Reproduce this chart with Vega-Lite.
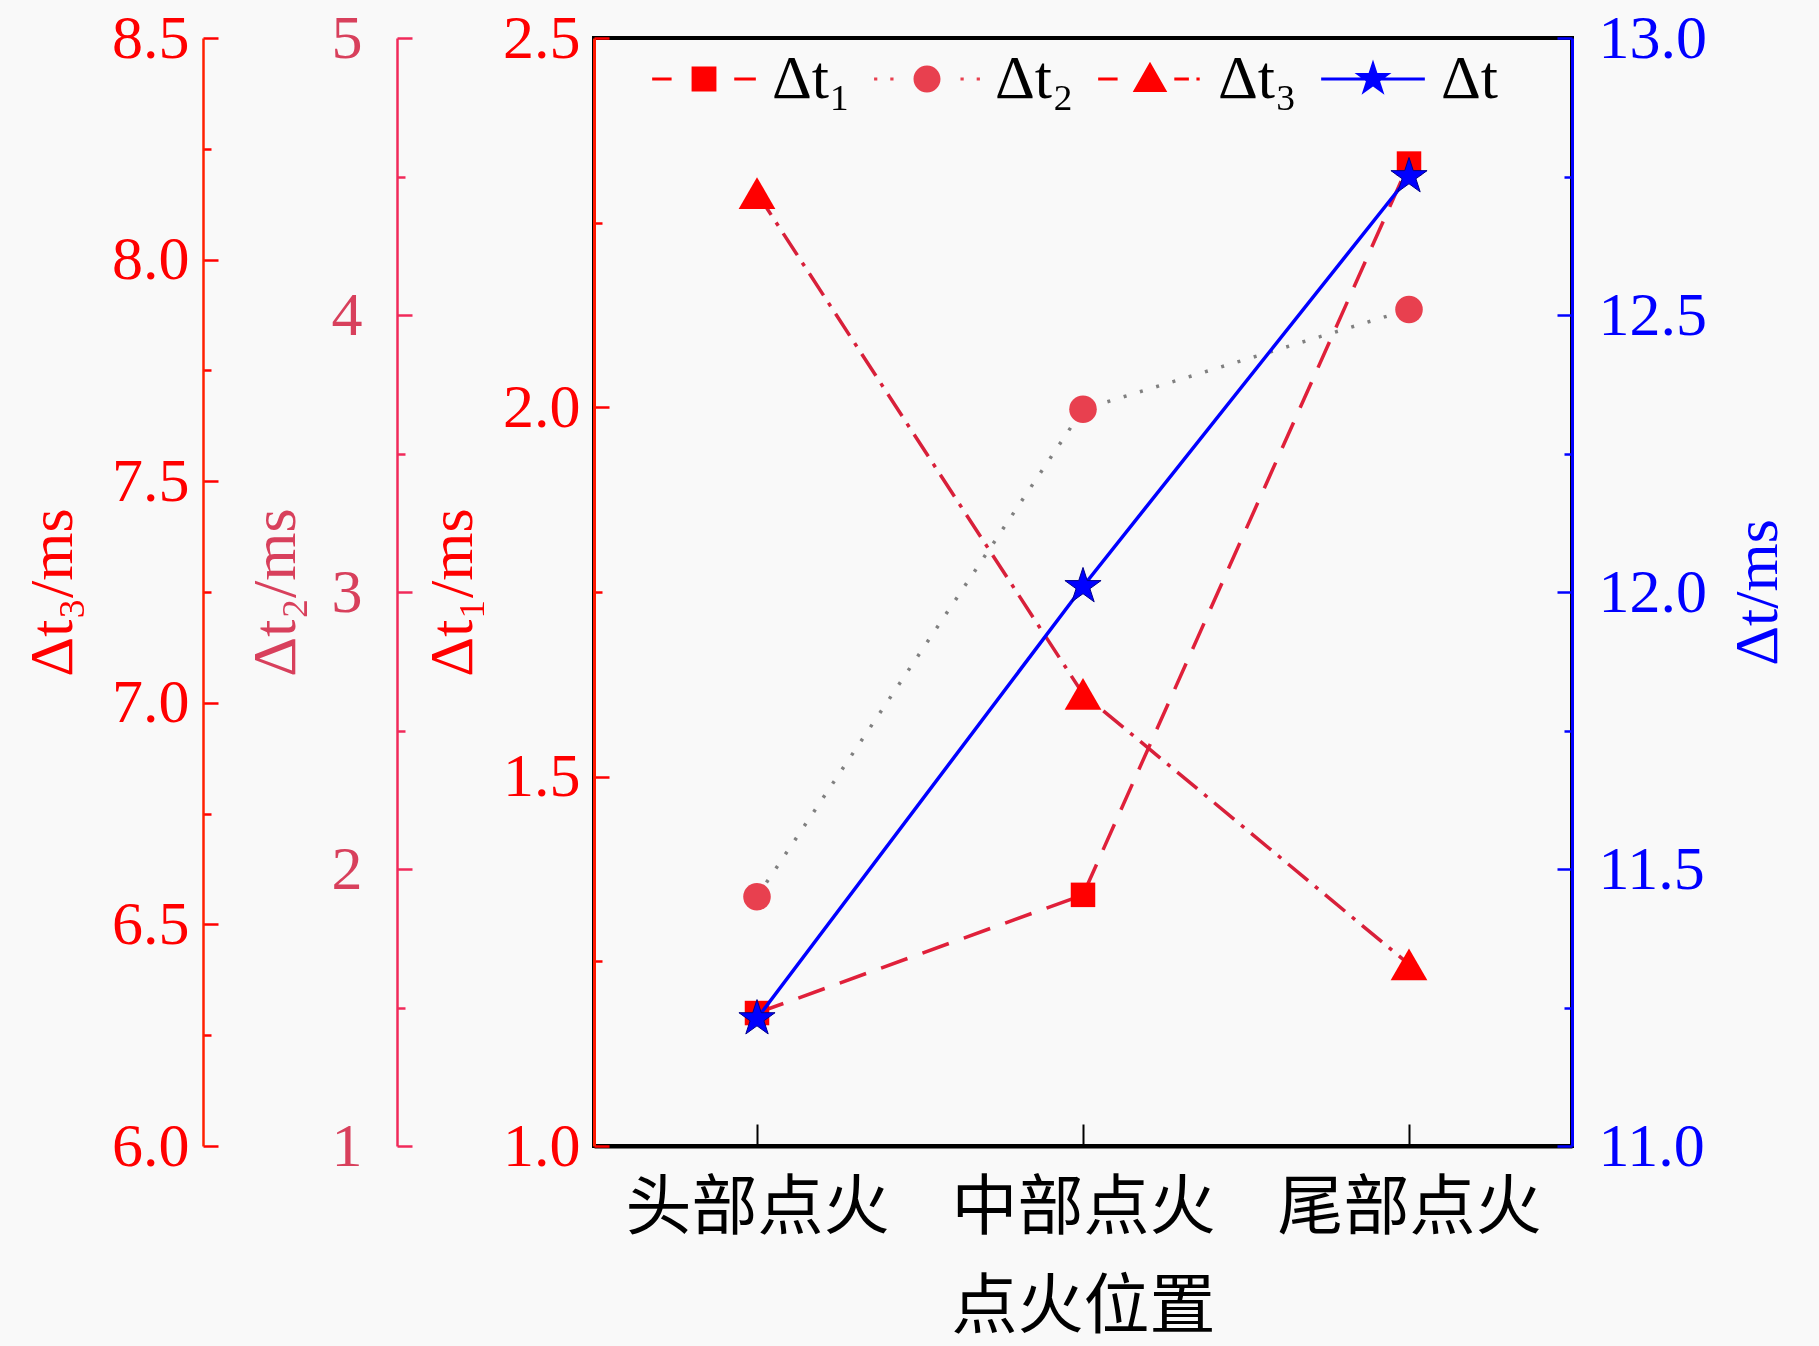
{
  "$schema": "https://vega.github.io/schema/vega-lite/v6.json",
  "width": 978,
  "height": 1108,
  "autosize": {"type": "none"},
  "padding": {"left": 594, "top": 38, "right": 247, "bottom": 200},
  "background": "#f9f9f9",
  "config": {
    "font": "Liberation Serif",
    "view": {"stroke": "#000000", "strokeWidth": 4},
    "axis": {"grid": false, "labelFontSize": 62, "titleFontSize": 62, "titleFontWeight": "normal", "labelFont": "Liberation Serif", "titleFont": "Liberation Serif"}
  },
  "datasets": {
    "main": [
      {"pos": "头部点火", "t1": 1.18, "t2": 1.9, "t3": 8.15, "t": 11.23},
      {"pos": "中部点火", "t1": 1.34, "t2": 3.66, "t3": 7.02, "t": 12.01},
      {"pos": "尾部点火", "t1": 2.33, "t2": 4.02, "t3": 6.41, "t": 12.75}
    ],
    "legend": [
      {"s": "Δt₁"},
      {"s": "Δt₂"},
      {"s": "Δt₃"},
      {"s": "Δt"}
    ]
  },
  "data": {"name": "main"},
  "encoding": {
    "x": {
      "field": "pos",
      "type": "nominal",
      "sort": null,
      "scale": {"type": "point", "padding": 0.5},
      "title": "点火位置",
      "axis": {
        "labelAngle": 0,
        "labelLimit": 0,
        "labelFont": "Noto Sans CJK SC",
        "titleFont": "Noto Sans CJK SC",
        "labelFontSize": 66,
        "titleFontSize": 66,
        "labelColor": "#000000",
        "titleColor": "#000000",
        "domainColor": "#000000",
        "domainWidth": 4,
        "tickColor": "#000000",
        "tickWidth": 2,
        "tickSize": -22,
        "labelPadding": 52,
        "titlePadding": 34
      }
    }
  },
  "layer": [
    {
      "mark": {
        "type": "line",
        "color": "#e0203a",
        "strokeWidth": 3.5,
        "strokeDash": [28, 16],
        "point": {"shape": "square", "filled": true, "color": "#ff0000", "size": 600, "opacity": 1}
      },
      "encoding": {
        "y": {
          "field": "t1",
          "type": "quantitative",
          "scale": {"domain": [1, 2.5], "nice": false, "zero": false},
          "title": "Δt₁/ms",
          "axis": {
            "orient": "left",
            "offset": 0,
            "values": [1, 1.25, 1.5, 1.75, 2, 2.25, 2.5],
            "labelExpr": "round(datum.value*4)%2==0 ? format(datum.value,'.1f') : ''",
            "domainColor": "#ff1a00",
            "domainWidth": 3,
            "tickColor": "#ff0000",
            "tickWidth": 2.5,
            "tickSize": {"condition": {"test": "round(datum.value*4)%2==0", "value": -15}, "value": -8},
            "labelColor": "#ff0000",
            "titleColor": "#ff0000",
            "labelPadding": 29,
            "titleX": -142,
            "titleY": 554,
            "titleBaseline": "middle",
            "titleAlign": "center"
          }
        }
      }
    },
    {
      "mark": {
        "type": "line",
        "color": "#808080",
        "strokeWidth": 3.5,
        "strokeDash": [3, 14],
        "point": {"shape": "circle", "filled": true, "color": "#e8404f", "size": 760, "opacity": 1}
      },
      "encoding": {
        "y": {
          "field": "t2",
          "type": "quantitative",
          "scale": {"domain": [1, 5], "nice": false, "zero": false},
          "title": "Δt₂/ms",
          "axis": {
            "orient": "left",
            "offset": 197,
            "values": [1, 1.5, 2, 2.5, 3, 3.5, 4, 4.5, 5],
            "labelExpr": "round(datum.value*2)%2==0 ? format(datum.value,'d') : ''",
            "domainColor": "#f02a5a",
            "domainWidth": 2.5,
            "tickColor": "#f02a5a",
            "tickWidth": 2.5,
            "tickSize": {"condition": {"test": "round(datum.value*2)%2==0", "value": -15}, "value": -8},
            "labelColor": "#d8405c",
            "titleColor": "#d8405c",
            "labelPadding": 50,
            "titleX": -122,
            "titleY": 554,
            "titleBaseline": "middle",
            "titleAlign": "center"
          }
        }
      }
    },
    {
      "mark": {
        "type": "line",
        "color": "#d8203a",
        "strokeWidth": 3.5,
        "strokeDash": [26, 9, 4, 9],
        "point": {"shape": "triangle-up", "filled": true, "color": "#ff0000", "size": 1350, "opacity": 1}
      },
      "encoding": {
        "y": {
          "field": "t3",
          "type": "quantitative",
          "scale": {"domain": [6, 8.5], "nice": false, "zero": false},
          "title": "Δt₃/ms",
          "axis": {
            "orient": "left",
            "offset": 391,
            "values": [6, 6.25, 6.5, 6.75, 7, 7.25, 7.5, 7.75, 8, 8.25, 8.5],
            "labelExpr": "round(datum.value*4)%2==0 ? format(datum.value,'.1f') : ''",
            "domainColor": "#ff2000",
            "domainWidth": 2.5,
            "tickColor": "#ff0000",
            "tickWidth": 2.5,
            "tickSize": {"condition": {"test": "round(datum.value*4)%2==0", "value": -15}, "value": -8},
            "labelColor": "#ff0000",
            "titleColor": "#ff0000",
            "labelPadding": 29,
            "titleX": -151,
            "titleY": 554,
            "titleBaseline": "middle",
            "titleAlign": "center"
          }
        }
      }
    },
    {
      "mark": {
        "type": "line",
        "color": "#0000ff",
        "strokeWidth": 3.5,
        "point": {
          "shape": "M0,-1 L0.225,-0.309 L0.951,-0.309 L0.363,0.118 L0.588,0.809 L0,0.382 L-0.588,0.809 L-0.363,0.118 L-0.951,-0.309 L-0.225,-0.309 Z",
          "filled": true,
          "color": "#0000ff",
          "stroke": "#00008b",
          "strokeWidth": 1,
          "size": 1444,
          "opacity": 1
        }
      },
      "encoding": {
        "y": {
          "field": "t",
          "type": "quantitative",
          "scale": {"domain": [11, 13], "nice": false, "zero": false},
          "title": "Δt/ms",
          "axis": {
            "orient": "right",
            "values": [11, 11.25, 11.5, 11.75, 12, 12.25, 12.5, 12.75, 13],
            "labelExpr": "round(datum.value*4)%2==0 ? format(datum.value,'.1f') : ''",
            "domainColor": "#0000ff",
            "domainWidth": 3,
            "tickColor": "#0000ff",
            "tickWidth": 2.5,
            "tickSize": {"condition": {"test": "round(datum.value*4)%2==0", "value": -15}, "value": -8},
            "labelColor": "#0000ff",
            "titleColor": "#0000ff",
            "labelPadding": 41,
            "titleAngle": 270,
            "titleX": 185,
            "titleY": 554,
            "titleBaseline": "middle",
            "titleAlign": "center"
          }
        }
      }
    },
    {
      "data": {"name": "legend"},
      "transform": [{"filter": "datum.s == null"}],
      "mark": {"type": "point", "filled": true, "opacity": 1, "fillOpacity": 1},
      "encoding": {
        "x": {"value": 0},
        "y": {"value": 0},
        "fill": {
          "field": "s",
          "type": "nominal",
          "sort": null,
          "scale": {"domain": ["Δt₁", "Δt₂", "Δt₃", "Δt"], "range": ["#ff0000", "#e8404f", "#ff0000", "#0000ff"]},
          "legend": {
            "orient": "none",
            "legendX": 56,
            "legendY": -13,
            "direction": "horizontal",
            "title": null,
            "padding": 0,
            "symbolSize": 11664,
            "symbolStrokeWidth": 0,
            "symbolOpacity": 1,
            "labelFontSize": 62,
            "labelFont": "Liberation Serif",
            "labelColor": "#000000",
            "labelOffset": 14,
            "columnPadding": 22
          }
        },
        "shape": {
          "field": "s",
          "type": "nominal",
          "sort": null,
          "scale": {
            "domain": ["Δt₁", "Δt₂", "Δt₃", "Δt"],
            "range": [
              "M-0.96,-0.03 L-0.6,-0.03 L-0.6,0.03 L-0.96,0.03 Z M-0.23,-0.23 L0.23,-0.23 L0.23,0.23 L-0.23,0.23 Z M0.56,-0.03 L0.96,-0.03 L0.96,0.03 L0.56,0.03 Z",
              "M-0.98,-0.03 L-0.92,-0.03 L-0.92,0.03 L-0.98,0.03 Z M-0.68,-0.03 L-0.62,-0.03 L-0.62,0.03 L-0.68,0.03 Z M-0.25,0 A0.25,0.25 0 1,1 0.25,0 A0.25,0.25 0 1,1 -0.25,0 Z M0.62,-0.03 L0.68,-0.03 L0.68,0.03 L0.62,0.03 Z M0.92,-0.03 L0.98,-0.03 L0.98,0.03 L0.92,0.03 Z",
              "M-0.96,-0.03 L-0.6,-0.03 L-0.6,0.03 L-0.96,0.03 Z M0,-0.32 L0.32,0.24 L-0.32,0.24 Z M0.45,-0.03 L0.72,-0.03 L0.72,0.03 L0.45,0.03 Z M0.86,-0.03 L0.92,-0.03 L0.92,0.03 L0.86,0.03 Z",
              "M-0.96,-0.028 L-0.12,-0.028 L-0.12,0.028 L-0.96,0.028 Z M0,-0.36 L0.081,-0.111 L0.342,-0.111 L0.131,0.042 L0.212,0.291 L0,0.138 L-0.212,0.291 L-0.131,0.042 L-0.342,-0.111 L-0.081,-0.111 Z M0.12,-0.028 L0.96,-0.028 L0.96,0.028 L0.12,0.028 Z"
            ]
          }
        }
      }
    }
  ],
  "resolve": {"scale": {"y": "independent"}, "axis": {"y": "independent"}}
}
